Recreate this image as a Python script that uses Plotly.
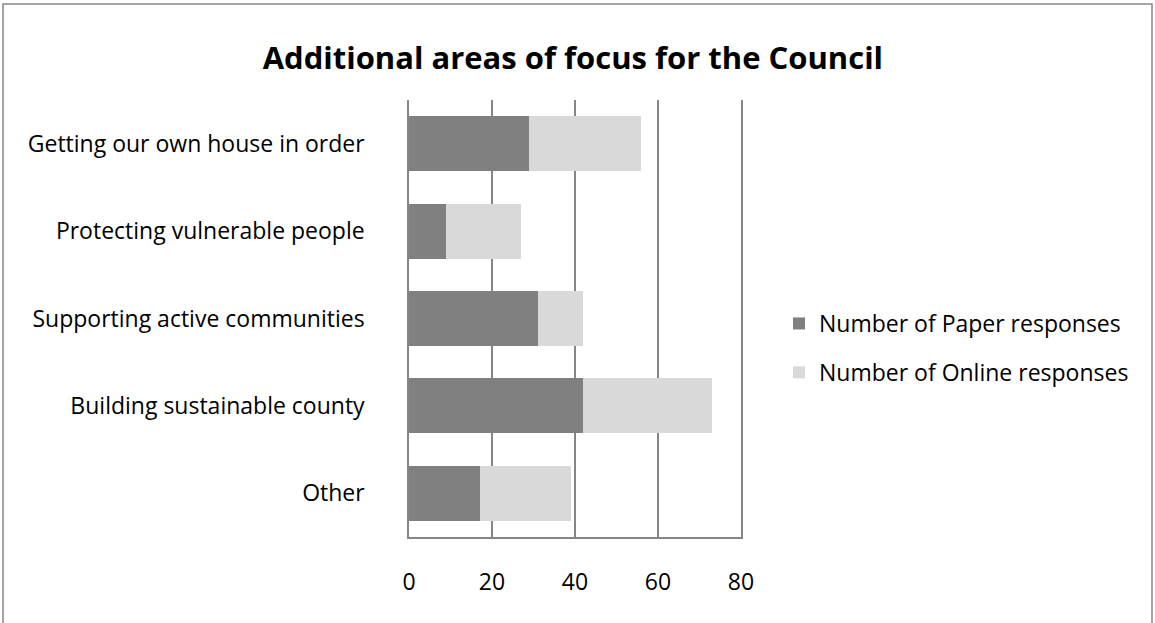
import plotly.graph_objects as go

categories = ["Getting our own house in order", "Protecting vulnerable people",
              "Supporting active communities", "Building sustainable county", "Other"]
paper = [29, 9, 31, 42, 17]
online = [27, 18, 11, 31, 22]
xticks = [0, 20, 40, 60, 80]

W, H = 1155, 623
L, R, T, B = 409, 741, 100, 537

font = "Open Sans"
fig = go.Figure()
fig.add_trace(go.Bar(y=categories, x=paper, orientation="h", name="Number of Paper responses",
                     legendgroup="p", marker=dict(color="#808080", line=dict(width=0))))
fig.add_trace(go.Bar(y=categories, x=online, orientation="h", name="Number of Online responses",
                     legendgroup="o", marker=dict(color="#d9d9d9", line=dict(width=0))))

def px2x(p):
    return (p - L) / (R - L)

def py2y(p):
    return (B - p) / (B - T)

fig.update_layout(
    width=W, height=H,
    barmode="stack", bargap=0.37,
    paper_bgcolor="white", plot_bgcolor="white",
    margin=dict(l=L, r=W - R, t=T, b=H - B, autoexpand=False),
    title=dict(text="<b>Additional areas of focus for the Council</b>", x=0.496, xanchor="center",
               y=1 - 58 / H, yanchor="middle", font=dict(family=font, size=31, color="black")),
    font=dict(family=font, size=23, color="black"),
    xaxis=dict(range=[0, 80], tickvals=xticks, showgrid=True, gridcolor="#868686", gridwidth=1.5,
               showline=True, linecolor="#868686", linewidth=1.5, zeroline=False, ticks="",
               ticklabelstandoff=24, tickfont=dict(size=23), fixedrange=True),
    yaxis=dict(categoryorder="array", categoryarray=categories, autorange="reversed",
               showline=True, mirror=True, linecolor="#868686", linewidth=1.5, ticks="",
               showgrid=False, ticklabelstandoff=38, tickfont=dict(size=23)),
    legend=dict(x=px2x(779), y=py2y(348), xanchor="left", yanchor="middle",
                traceorder="grouped", font=dict(size=23, family=font), itemwidth=30,
                tracegroupgap=16, bgcolor="rgba(0,0,0,0)"),
    shapes=[dict(type="rect", xref="paper", yref="paper",
                 x0=px2x(3), x1=px2x(1152), y0=py2y(640), y1=py2y(4),
                 line=dict(color="#868686", width=1.5), fillcolor="rgba(0,0,0,0)", layer="below")],
)
fig.write_html("out.html", config={"displayModeBar": False},
               post_script="document.body.style.margin='0';")
